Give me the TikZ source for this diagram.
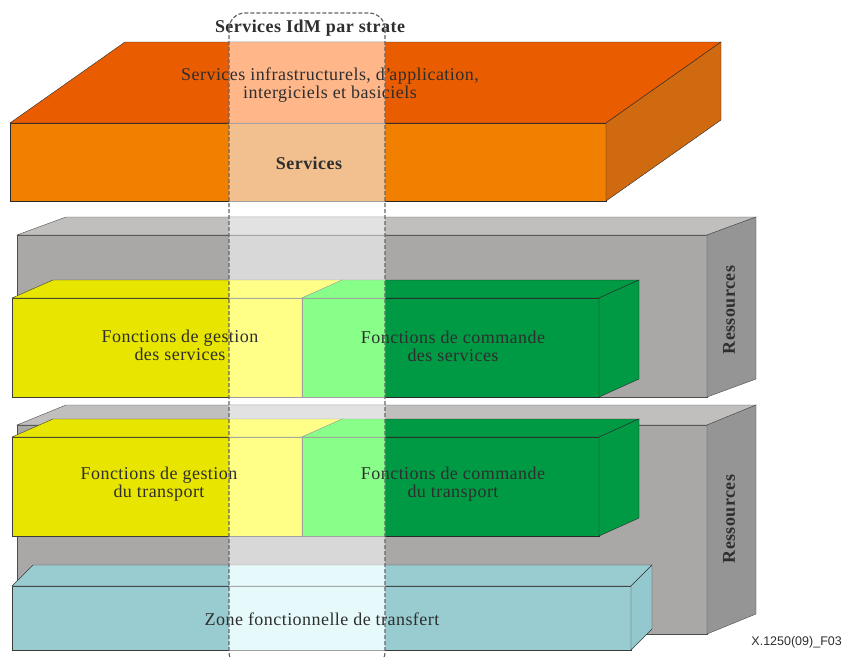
\documentclass[tikz,border=0pt]{standalone}
\usepackage{fontspec}
\setmainfont[LetterSpace=2.5]{Liberation Serif}
\newfontfamily\refsans{Liberation Sans}

% slab colours: T top, F front, S side, E edges; L = inside the strip
\definecolor{orangeT}{HTML}{EA5C00}
\definecolor{orangeF}{HTML}{F28000}
\definecolor{orangeS}{HTML}{CF6A10}
\definecolor{orangeE}{HTML}{2A2A2A}
\definecolor{orangeLT}{HTML}{FFB689}
\definecolor{orangeLF}{HTML}{F2C08F}
\colorlet{orangeLS}{orangeLF}
\definecolor{orangeLE}{HTML}{A0A0A0}
\definecolor{greyT}{HTML}{C0BFBD}
\definecolor{greyF}{HTML}{A9A8A6}
\definecolor{greyS}{HTML}{959595}
\definecolor{greyE}{HTML}{4D4D4D}
\definecolor{greyLT}{HTML}{E2E2E2}
\definecolor{greyLF}{HTML}{D8D8D8}
\colorlet{greyLS}{greyLF}
\definecolor{greyLE}{HTML}{A0A0A0}
\definecolor{yellowT}{HTML}{E8E600}
\colorlet{yellowF}{yellowT}
\colorlet{yellowS}{yellowT}
\definecolor{yellowE}{HTML}{3A3A3A}
\definecolor{yellowLT}{HTML}{FFFF88}
\colorlet{yellowLF}{yellowLT}
\colorlet{yellowLS}{yellowLT}
\definecolor{yellowLE}{HTML}{A0A0A0}
\definecolor{greenT}{HTML}{009A44}
\colorlet{greenF}{greenT}
\colorlet{greenS}{greenT}
\definecolor{greenE}{HTML}{2A2A2A}
\definecolor{greenLT}{HTML}{88FF88}
\colorlet{greenLF}{greenLT}
\colorlet{greenLS}{greenLT}
\definecolor{greenLE}{HTML}{A0A0A0}
\definecolor{cyanT}{HTML}{99CCD1}
\colorlet{cyanF}{cyanT}
\definecolor{cyanS}{HTML}{93C8CE}
\definecolor{cyanE}{HTML}{3A3A3A}
\definecolor{cyanLT}{HTML}{E6FAFC}
\colorlet{cyanLF}{cyanLT}
\colorlet{cyanLS}{cyanLT}
\definecolor{cyanLE}{HTML}{A0A0A0}
\definecolor{textgrey}{HTML}{2E2E2E}

\tikzset{%
	facetext/.style  = {font=\fontsize{18}{18}\selectfont, text=textgrey, align=center, inner sep=0pt},
	boldtext/.style  = {facetext, font=\fontsize{18}{18}\selectfont\bfseries},
	stripline/.style = {draw=black!60, dashed, dash pattern=on 4pt off 2pt, line width=1.2pt, rounded corners=16pt},
}
% #1 colour, (#2,#3) front top left, (#4,#5) front bottom right, (#6,#7) depth
\newcommand{\slab}[7]{%
	\filldraw[draw=#1E, fill=#1F] (#2,#3) rectangle (#4,#5);
	\filldraw[draw=#1E, fill=#1T] (#2,#3) -- ++(#6,#7) -- ++(#4-#2,0) -- (#4,#3) -- cycle;
	\filldraw[draw=#1E, fill=#1S] (#4,#3) -- ++(#6,#7) -- ++(0,#5-#3) -- (#4,#5) -- cycle;
}
\newcommand{\strata}[1]{%
	\slab{orange#1}{10}{123}{606}{201}{115}{-81}
	\slab{grey#1}{17}{235}{707}{397}{49}{-18}
	\slab{yellow#1}{12}{298}{302}{397}{41}{-18}
	\slab{green#1}{302}{298}{599}{397}{40}{-18}
	\slab{grey#1}{17}{425}{707}{634}{49}{-20}
	\slab{yellow#1}{12}{437}{302}{536}{41}{-18}
	\slab{green#1}{302}{437}{599}{536}{40}{-18}
	\slab{cyan#1}{12}{586}{631}{650}{21}{-21}
}

\begin{document}
\begin{tikzpicture}[x=1pt,y=-1pt]
	\useasboundingbox (0,0) rectangle (843,656);
	\strata{}
	\begin{scope}
		\clip[rounded corners=16pt] (229,13) rectangle (385,668);
		\strata{L}
	\end{scope}
	
	\node[boldtext] (strate) at (310,28) {Services IdM par strate};
	\node[facetext] (infra) at (330,85) {Services infrastructurels, d’\kern-2pt application,\\intergiciels et basiciels};
	\node[boldtext] (services) at (309,163) {Services};
	\node[facetext] (gestserv) at (180,345) {Fonctions de gestion\\des services};
	\node[facetext] (commserv) at (453,346) {Fonctions de commande\\des services};
	\node[facetext] (gesttrans) at (159,484) {Fonctions de gestion\\du transport};
	\node[facetext] (commtrans) at (453,484) {Fonctions de commande\\du transport};
	\node[facetext] (zone) at (322,619) {Zone fonctionnelle de transfert};
	\node[boldtext, rotate=90] (resserv) at (729,310) {Ressources};
	\node[boldtext, rotate=90] (restrans) at (729,519) {Ressources};
	\node[anchor=east, inner sep=0pt, font=\refsans\fontsize{12.5}{13}\selectfont, text=textgrey] (ref) at (842,642) {X.1250(09)\_F03};
	
	\draw[stripline] (229,13) rectangle (385,668);
\end{tikzpicture}
\end{document}
